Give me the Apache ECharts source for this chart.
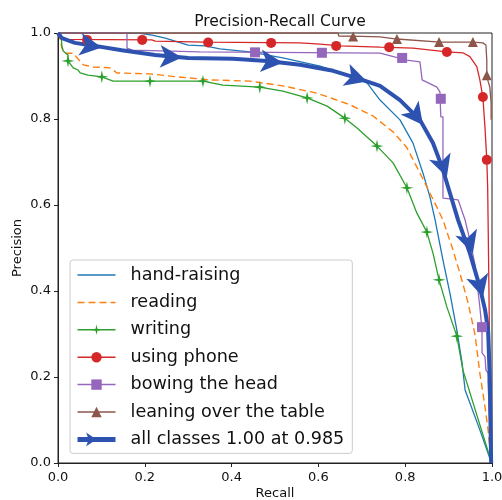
<!DOCTYPE html>
<html>
<head>
<meta charset="utf-8">
<script src="https://cdn.jsdelivr.net/npm/echarts@6/dist/echarts.min.js"></script>
<style>
html,body{margin:0;padding:0;background:#fff;}
#chart{width:502px;height:500px;}
</style>
</head>
<body>
<div id="chart"></div>
<script>
// ---------- data (recall, precision) ----------
var tickValues = [0, 0.2, 0.4, 0.6, 0.8, 1.0];
var tickLabels = ['0.0', '0.2', '0.4', '0.6', '0.8', '1.0'];
var seriesNames = ['hand-raising', 'reading', 'writing', 'using phone', 'bowing the head', 'leaning over the table', 'all classes 1.00 at 0.985'];

var handRaising = [[0,1.0],[0.189,0.999],[0.217,0.995],[0.247,0.988],[0.300,0.972],[0.339,0.970],[0.373,0.963],[0.442,0.956],[0.518,0.942],[0.604,0.923],[0.673,0.900],[0.712,0.884],[0.742,0.844],[0.788,0.798],[0.818,0.744],[0.841,0.674],[0.857,0.619],[0.869,0.565],[0.887,0.472],[0.903,0.395],[0.919,0.309],[0.931,0.233],[0.938,0.170],[0.972,0.077],[0.998,0.002]];

var reading = [[0,1.0],[0.005,0.985],[0.009,0.965],[0.016,0.953],[0.035,0.953],[0.058,0.926],[0.081,0.921],[0.120,0.919],[0.136,0.907],[0.212,0.905],[0.274,0.898],[0.350,0.891],[0.442,0.888],[0.518,0.877],[0.597,0.860],[0.673,0.833],[0.726,0.807],[0.772,0.770],[0.804,0.733],[0.827,0.688],[0.850,0.642],[0.873,0.595],[0.887,0.565],[0.908,0.502],[0.926,0.442],[0.945,0.372],[0.961,0.298],[0.972,0.209],[0.984,0.130],[0.991,0.077],[0.998,0.002]];

var writing = [[0,1.0],[0.007,0.995],[0.009,0.970],[0.012,0.958],[0.023,0.949],[0.023,0.935],[0.035,0.919],[0.046,0.914],[0.051,0.907],[0.069,0.902],[0.101,0.898],[0.127,0.888],[0.212,0.888],[0.334,0.888],[0.380,0.879],[0.465,0.874],[0.518,0.865],[0.574,0.849],[0.620,0.830],[0.661,0.802],[0.689,0.779],[0.735,0.737],[0.772,0.698],[0.804,0.640],[0.827,0.581],[0.850,0.537],[0.864,0.488],[0.878,0.426],[0.896,0.363],[0.919,0.295],[0.933,0.216],[0.995,0.014],[0.998,0.0]];
var writingMarks = [[0.023,0.935],[0.101,0.898],[0.212,0.888],[0.334,0.888],[0.465,0.874],[0.574,0.849],[0.661,0.802],[0.735,0.737],[0.804,0.640],[0.850,0.537],[0.878,0.426],[0.919,0.295]];

var usingPhone = [[0,1.0],[0.007,0.990],[0.010,0.985],[0.216,0.984],[0.224,0.981],[0.338,0.979],[0.558,0.977],[0.604,0.974],[0.650,0.970],[0.742,0.967],[0.818,0.965],[0.896,0.956],[0.933,0.954],[0.949,0.945],[0.965,0.922],[0.972,0.891],[0.979,0.851],[0.984,0.777],[0.988,0.705],[0.990,0.642],[0.991,0.565],[0.993,0.400],[0.995,0.200],[0.998,0.0]];
var usingPhoneMarks = [[0.067,0.984],[0.194,0.984],[0.346,0.978],[0.491,0.977],[0.641,0.970],[0.763,0.967],[0.896,0.956],[0.979,0.851],[0.988,0.705]];

var bowingHead = [[0,1.0],[0.159,1.0],[0.159,0.965],[0.171,0.960],[0.327,0.956],[0.742,0.953],[0.804,0.937],[0.834,0.933],[0.839,0.891],[0.873,0.874],[0.880,0.863],[0.882,0.805],[0.887,0.805],[0.887,0.616],[0.922,0.612],[0.938,0.565],[0.949,0.519],[0.961,0.460],[0.972,0.363],[0.977,0.309],[0.977,0.256],[0.984,0.247],[0.986,0.216],[0.991,0.209],[0.991,0.188],[0.998,0.0]];
var bowingHeadMarks = [[0.454,0.955],[0.608,0.954],[0.793,0.942],[0.882,0.847],[0.977,0.316]];

var leaning = [[0,1.0],[0.645,1.0],[0.647,0.993],[0.700,0.992],[0.742,0.991],[0.781,0.986],[0.880,0.979],[0.956,0.979],[0.979,0.977],[0.986,0.972],[0.988,0.937],[0.988,0.898],[0.995,0.874],[0.998,0.837],[0.998,0.798]];
var leaningMarks = [[0.680,0.992],[0.781,0.986],[0.878,0.979],[0.956,0.979],[0.988,0.902]];

var allClasses = [[0,1.0],[0.009,0.988],[0.039,0.977],[0.085,0.970],[0.147,0.960],[0.224,0.949],[0.300,0.942],[0.403,0.940],[0.482,0.935],[0.558,0.926],[0.634,0.912],[0.689,0.895],[0.742,0.877],[0.788,0.844],[0.834,0.798],[0.864,0.744],[0.885,0.688],[0.903,0.628],[0.922,0.565],[0.949,0.488],[0.972,0.409],[0.984,0.356],[0.991,0.309],[0.995,0.193],[0.998,0.0]];
var allClassesMarks = [[0.101,0.966],[0.286,0.943],[0.518,0.931],[0.712,0.887],[0.841,0.786],[0.896,0.665],[0.956,0.488],[0.979,0.386]];

// ---------- styling ----------
var colors = ['#1f77b4', '#ff7f0e', '#2ca02c', '#d62728', '#9467bd', '#8c564b', '#2d52b0'];
var FONT = 'DejaVu Sans';
var star4 = 'path://M0,-10 L1.8,-1.8 L10,0 L1.8,1.8 L0,10 L-1.8,1.8 L-10,0 L-1.8,-1.8 Z';

var chart = echarts.init(document.getElementById('chart'), null, {renderer: 'canvas'});

// tangent rotation for arrow markers, computed from curve data
var PX_X = 434, PX_Y = 430;
function arrowRotation(curve, pt) {
  var best = 0, bd = Infinity;
  for (var i = 0; i < curve.length; i++) {
    var dx = (curve[i][0] - pt[0]) * PX_X, dy = (curve[i][1] - pt[1]) * PX_Y;
    var d = dx * dx + dy * dy;
    if (d < bd) { bd = d; best = i; }
  }
  var a = curve[Math.max(0, best - 1)], b = curve[Math.min(curve.length - 1, best + 1)];
  var ang = Math.atan2((b[1] - a[1]) * PX_Y, (b[0] - a[0]) * PX_X) * 180 / Math.PI;
  return ang - 90;
}

function lineSeries(name, data, color, width, type, symbol, extra) {
  var s = {
    name: name, type: 'line', data: data, showSymbol: false,
    symbol: symbol, symbolSize: 10,
    lineStyle: {color: color, width: width, type: type},
    itemStyle: {color: color},
    emphasis: {disabled: true}, silent: true, z: 2
  };
  if (extra) for (var k in extra) s[k] = extra[k];
  return s;
}
function markSeries(name, data, color, symbol, size, rotations) {
  return {
    name: name, type: 'scatter', symbol: symbol, symbolSize: size,
    data: data.map(function (d, i) {
      var o = {value: d};
      if (rotations) o.symbolRotate = rotations[i];
      return o;
    }),
    itemStyle: {color: color, opacity: 1},
    emphasis: {disabled: true}, silent: true, z: 3
  };
}

var arrowRots = allClassesMarks.map(function (p) { return arrowRotation(allClasses, p); });

var series = [
  lineSeries(seriesNames[0], handRaising, colors[0], 1.3, 'solid', 'none'),
  lineSeries(seriesNames[1], reading, colors[1], 1.4, [7, 4], 'none'),
  lineSeries(seriesNames[2], writing, colors[2], 1.3, 'solid', star4),
  markSeries(seriesNames[2], writingMarks, colors[2], star4, 13),
  lineSeries(seriesNames[3], usingPhone, colors[3], 1.3, 'solid', 'circle'),
  markSeries(seriesNames[3], usingPhoneMarks, colors[3], 'circle', 10),
  lineSeries(seriesNames[4], bowingHead, colors[4], 1.3, 'solid', 'rect'),
  markSeries(seriesNames[4], bowingHeadMarks, colors[4], 'rect', 10),
  lineSeries(seriesNames[5], leaning, colors[5], 1.3, 'solid', 'triangle'),
  markSeries(seriesNames[5], leaningMarks, colors[5], 'triangle', 10),
  lineSeries(seriesNames[6], allClasses, colors[6], 4, 'solid', 'arrow', {symbolRotate: -90}),
  markSeries(seriesNames[6], allClassesMarks, colors[6], 'arrow', [17, 22], arrowRots)
];

var legendData = seriesNames.map(function (n, i) {
  var item = {name: n, lineStyle: {width: i === 6 ? 5 : 1.5}};
  if (i < 2) item.itemStyle = {opacity: 0};
  return item;
});

function fmt(v) {
  for (var i = 0; i < tickValues.length; i++) if (Math.abs(v - tickValues[i]) < 1e-9) return tickLabels[i];
  return '';
}

var axisCommon = {
  type: 'value', min: 0, max: 1, interval: 0.2,
  axisLine: {show: true, lineStyle: {color: '#222', width: 1}},
  axisTick: {show: true, inside: false, length: 4, lineStyle: {color: '#222', width: 1}},
  splitLine: {show: false},
  nameLocation: 'middle',
  nameMoveOverlap: false,
  nameTextStyle: {fontFamily: FONT, fontSize: 13, color: '#111'}
};

chart.setOption({
  animation: false,
  backgroundColor: '#fff',
  title: {
    text: 'Precision-Recall Curve', left: 275, top: 9, textAlign: 'center',
    textStyle: {fontFamily: FONT, fontSize: 15.5, fontWeight: 'normal', color: '#111'}
  },
  grid: {left: 58, right: 10, top: 33, bottom: 37, show: true, borderColor: '#222', borderWidth: 1, containLabel: false, outerBoundsMode: 'none'},
  xAxis: Object.assign({}, axisCommon, {
    name: 'Recall', nameGap: 24,
    axisLabel: {fontFamily: FONT, fontSize: 13, color: '#111', margin: 8, formatter: fmt}
  }),
  yAxis: Object.assign({}, axisCommon, {
    name: 'Precision', nameGap: 34,
    axisLabel: {fontFamily: FONT, fontSize: 13, color: '#111', margin: 7, formatter: fmt}
  }),
  legend: {
    orient: 'vertical', left: 70, top: 260,
    data: legendData,
    itemWidth: 38, itemHeight: 13, itemGap: 9.4,
    padding: [6, 8, 5, 5],
    backgroundColor: 'rgba(255,255,255,0.8)', borderColor: '#cccccc', borderWidth: 1, borderRadius: 3,
    selectedMode: false,
    textStyle: {fontFamily: FONT, fontSize: 17.6, color: '#111', lineHeight: 17.6, padding: [0, 0, 0, 10]}
  },
  series: series
});
</script>
</body>
</html>
